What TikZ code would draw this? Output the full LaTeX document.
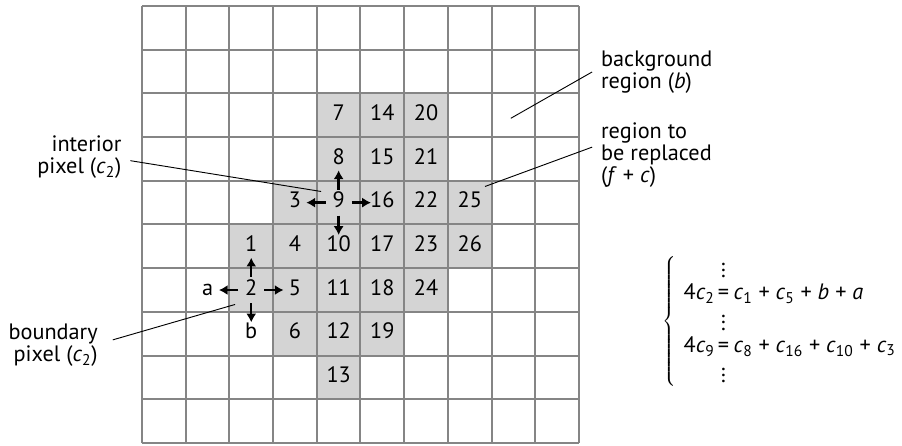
\documentclass[tikz,border=0pt]{standalone}
\usepackage{fontspec}
\setmainfont{PT Sans}
\usepackage{tikz}
\usetikzlibrary{arrows.meta,calc}
\definecolor{gline}{HTML}{858585}
\definecolor{cellgrey}{HTML}{D4D4D4}
\newcommand{\csub}[1]{\textit{c}\textsubscript{#1}}

\begin{document}
\begin{tikzpicture}[
  font=\fontsize{14.5}{14.3}\selectfont,
  px/.style={inner sep=0pt,text height=0.66em,text depth=0pt},
  lbl/.style={inner sep=0.2cm},
  lead/.style={draw=black,line width=0.6pt},
  arr/.style={-{Latex[length=2mm,width=2.3mm]},line width=1.6pt}]

  \useasboundingbox (-3.249,-0.046) rectangle (17.391,10.137);

  % region to be replaced
  \foreach \x/\y in {4/7,5/7,6/7, 4/6,5/6,6/6, 3/5,4/5,5/5,6/5,7/5,
                     2/4,3/4,4/4,5/4,6/4,7/4, 2/3,3/3,4/3,5/3,6/3, 3/2,4/2,5/2, 4/1}
    \fill[cellgrey] (\x,\y) rectangle ++(1,1);
  \draw[gline,line width=1.3pt] (0,0) grid (10,10);

  \node[px] (p1) at (2.5,4.5) {1};   \node[px] (p2) at (2.5,3.5) {2};
  \node[px] (p3) at (3.5,5.5) {3};   \node[px] (p4) at (3.5,4.5) {4};
  \node[px] (p5) at (3.5,3.5) {5};   \node[px] (p6) at (3.5,2.5) {6};
  \node[px] (p7) at (4.5,7.5) {7};   \node[px] (p8) at (4.5,6.5) {8};
  \node[px] (p9) at (4.5,5.5) {9};   \node[px] (p10) at (4.5,4.5) {10};
  \node[px] (p11) at (4.5,3.5) {11}; \node[px] (p12) at (4.5,2.5) {12};
  \node[px] (p13) at (4.5,1.5) {13}; \node[px] (p14) at (5.5,7.5) {14};
  \node[px] (p15) at (5.5,6.5) {15}; \node[px] (p16) at (5.5,5.5) {16};
  \node[px] (p17) at (5.5,4.5) {17}; \node[px] (p18) at (5.5,3.5) {18};
  \node[px] (p19) at (5.5,2.5) {19}; \node[px] (p20) at (6.5,7.5) {20};
  \node[px] (p21) at (6.5,6.5) {21}; \node[px] (p22) at (6.5,5.5) {22};
  \node[px] (p23) at (6.5,4.5) {23}; \node[px] (p24) at (6.5,3.5) {24};
  \node[px] (p25) at (7.5,5.5) {25}; \node[px] (p26) at (7.5,4.5) {26};
  \node[px] (a) at (1.5,3.5) {a};    \node[px] (b) at (2.5,2.5) {b};

  % neighbours of 2 and 9
  \draw[arr] ($(p2)!.3!(p1)$) -- ($(p2)!.74!(p1)$);
  \draw[arr] ($(p2)!.3!(p5)$) -- ($(p2)!.74!(p5)$);
  \draw[arr] ($(p2)!.3!(a)$) -- ($(p2)!.74!(a)$);
  \draw[arr] ($(p2)!.3!(b)$) -- ($(p2)!.74!(b)$);
  \draw[arr] ($(p9)!.3!(p8)$) -- ($(p9)!.74!(p8)$);
  \draw[arr] ($(p9)!.3!(p16)$) -- ($(p9)!.74!(p16)$);
  \draw[arr] ($(p9)!.3!(p3)$) -- ($(p9)!.74!(p3)$);
  \draw[arr] ($(p9)!.3!(p10)$) -- ($(p9)!.74!(p10)$);

  \node[lbl,anchor=west,align=left] (bg) at (10.3,8.49) {background\\region (\textit{b})};
  \node[lbl,anchor=west,align=left] (rep) at (10.3,6.59) {region to\\be replaced\\(\textit{f} + \textit{c})};
  \node[lbl,anchor=east,align=right] (int) at (-0.265,6.54) {interior\\pixel (\csub{2})};
  \node[lbl,anchor=east,align=right] (bnd) at (-0.807,2.23) {boundary\\pixel (\csub{2})};

  \coordinate (bgend) at (8.44,7.43);
  \coordinate (repend) at (7.85,5.87);
  \coordinate (intend) at (4.10,5.755);
  \coordinate (bndend) at (2.13,3.17);
  \draw[lead] (bg.west) -- (bgend);
  \draw[lead] ($(rep.west)+(0,.18)$) -- (repend);
  \draw[lead] ($(int.east)+(0,-.08)$) -- (intend);
  \draw[lead] ($(bnd.east)+(.14,.13)$) -- (bndend);

  \node[inner sep=0pt,anchor=west] (eqs) at (11.9,2.78) {$\left\{\hspace{5pt}\begin{tabular}{@{}r@{\hspace{2pt}}c@{\hspace{3pt}}l@{}}
      & \vdots & \\
    4\csub{2} & = & \csub{1} + \csub{5} + \textit{b} + \textit{a} \\
      & \vdots & \\
    4\csub{9} & = & \csub{8} + \csub{16} + \csub{10} + \csub{3} \\
      & \vdots &
  \end{tabular}\right.$};
\end{tikzpicture}
\end{document}
